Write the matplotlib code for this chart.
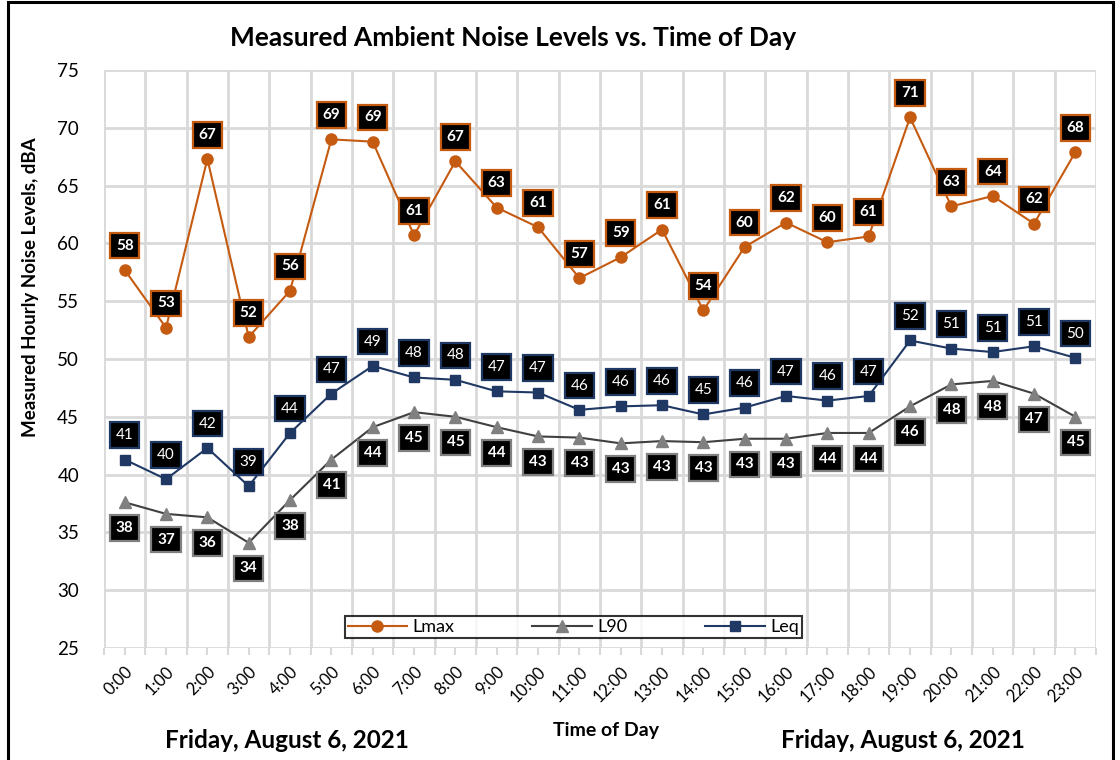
import numpy as np
import matplotlib
matplotlib.use("Agg")
import matplotlib.pyplot as plt
from matplotlib.patches import Rectangle

plt.rcParams['font.family'] = ['Lato', 'DejaVu Sans']

hours = ["%d:00" % h for h in range(24)]

lmax = [57.7, 52.7, 67.3, 51.9, 55.9, 69.0, 68.8, 60.7, 67.1, 63.1, 61.4, 57.0,
        58.8, 61.2, 54.2, 59.7, 61.8, 60.1, 60.6, 70.9, 63.2, 64.1, 61.7, 67.9]
l90 = [37.6, 36.6, 36.3, 34.1, 37.8, 41.3, 44.1, 45.4, 45.0, 44.1, 43.3, 43.2,
       42.7, 42.9, 42.8, 43.1, 43.1, 43.6, 43.6, 45.9, 47.8, 48.1, 47.0, 45.0]
leq = [41.3, 39.6, 42.3, 39.0, 43.6, 47.0, 49.4, 48.4, 48.2, 47.2, 47.1, 45.6,
       45.9, 46.0, 45.2, 45.8, 46.8, 46.4, 46.8, 51.6, 50.9, 50.6, 51.1, 50.1]

c_lmax = "#C55A11"
c_l90 = "#808080"
c_l90_line = "#404040"
c_leq = "#1F3864"

fig = plt.figure(figsize=(11.2, 7.6), dpi=100)
ax = fig.add_axes([0.0929, 0.1474, 0.8857, 0.7605])

x = np.arange(len(hours))
ax.plot(x, lmax, color=c_lmax, lw=1.5, marker='o', ms=8, mfc=c_lmax, mec=c_lmax,
        label="Lmax", zorder=4)
ax.plot(x, l90, color=c_l90_line, lw=1.5, marker='^', ms=8, mfc=c_l90, mec=c_l90,
        label="L90", zorder=4)
ax.plot(x, leq, color=c_leq, lw=1.5, marker='s', ms=7, mfc=c_leq, mec=c_leq,
        label="Leq", zorder=4)

# value labels: black boxes, border in the series colour
def tag(vals, edge, dy, weight):
    for xi, v in zip(x, vals):
        ax.annotate("%d" % round(v), (xi, v), xytext=(0, dy), textcoords='offset points',
                    ha='center', va='center', color='white', fontsize=11,
                    fontweight=weight, zorder=6,
                    bbox=dict(boxstyle='square,pad=0.38', fc='black', ec=edge, lw=1.6))

tag(lmax, c_lmax, 17.5, 'bold')
tag(leq, c_leq, 17.5, 'normal')
tag(l90, c_l90, -18.5, 'bold')

ax.set_xlim(-0.5, 23.5)
ax.set_ylim(25, 75)
ax.set_yticks(range(25, 80, 5))
ax.set_xticks(x)
ax.set_xticklabels(hours, rotation=45, ha='right', rotation_mode='anchor', fontsize=12)
ax.set_xticks(np.arange(-0.5, 24, 1), minor=True)
ax.tick_params(axis='y', length=0, labelsize=13.5, pad=18)
ax.tick_params(axis='x', which='both', length=5, color='#D9D9D9', width=1.5, pad=6)
ax.grid(True, which='minor', axis='x', color='#D9D9D9', lw=2)
ax.grid(True, which='major', axis='y', color='#D9D9D9', lw=2)
for s in ax.spines.values():
    s.set_visible(False)
ax.set_axisbelow(True)

leg = ax.legend(loc='center', bbox_to_anchor=(0.473, 0.036), ncol=3, frameon=True,
                fancybox=False, edgecolor='black', fontsize=13, columnspacing=4.3,
                handlelength=3.3, borderpad=0.15, handletextpad=0.3, borderaxespad=0)
leg.get_frame().set_linewidth(1.5)
leg.set_zorder(7)

fig.text(0.458, 0.950, "Measured Ambient Noise Levels vs. Time of Day",
         ha='center', va='center', fontsize=19, fontweight='bold')
fig.text(0.027, 0.622, "Measured Hourly Noise Levels, dBA", rotation=90,
         ha='center', va='center', fontsize=13.5, fontweight='bold')
fig.text(0.541, 0.039, "Time of Day", ha='center', va='center', fontsize=14,
         fontweight='bold')
fig.text(0.256, 0.026, "Friday, August 6, 2021", ha='center', va='center',
         fontsize=17.5, fontweight='bold')
fig.text(0.806, 0.026, "Friday, August 6, 2021", ha='center', va='center',
         fontsize=17.5, fontweight='bold')

fig.add_artist(Rectangle((0.007, -0.01), 0.9868, 1.007, transform=fig.transFigure,
                         fill=False, ec='black', lw=2.2))

fig.savefig("out.png", dpi=100)
